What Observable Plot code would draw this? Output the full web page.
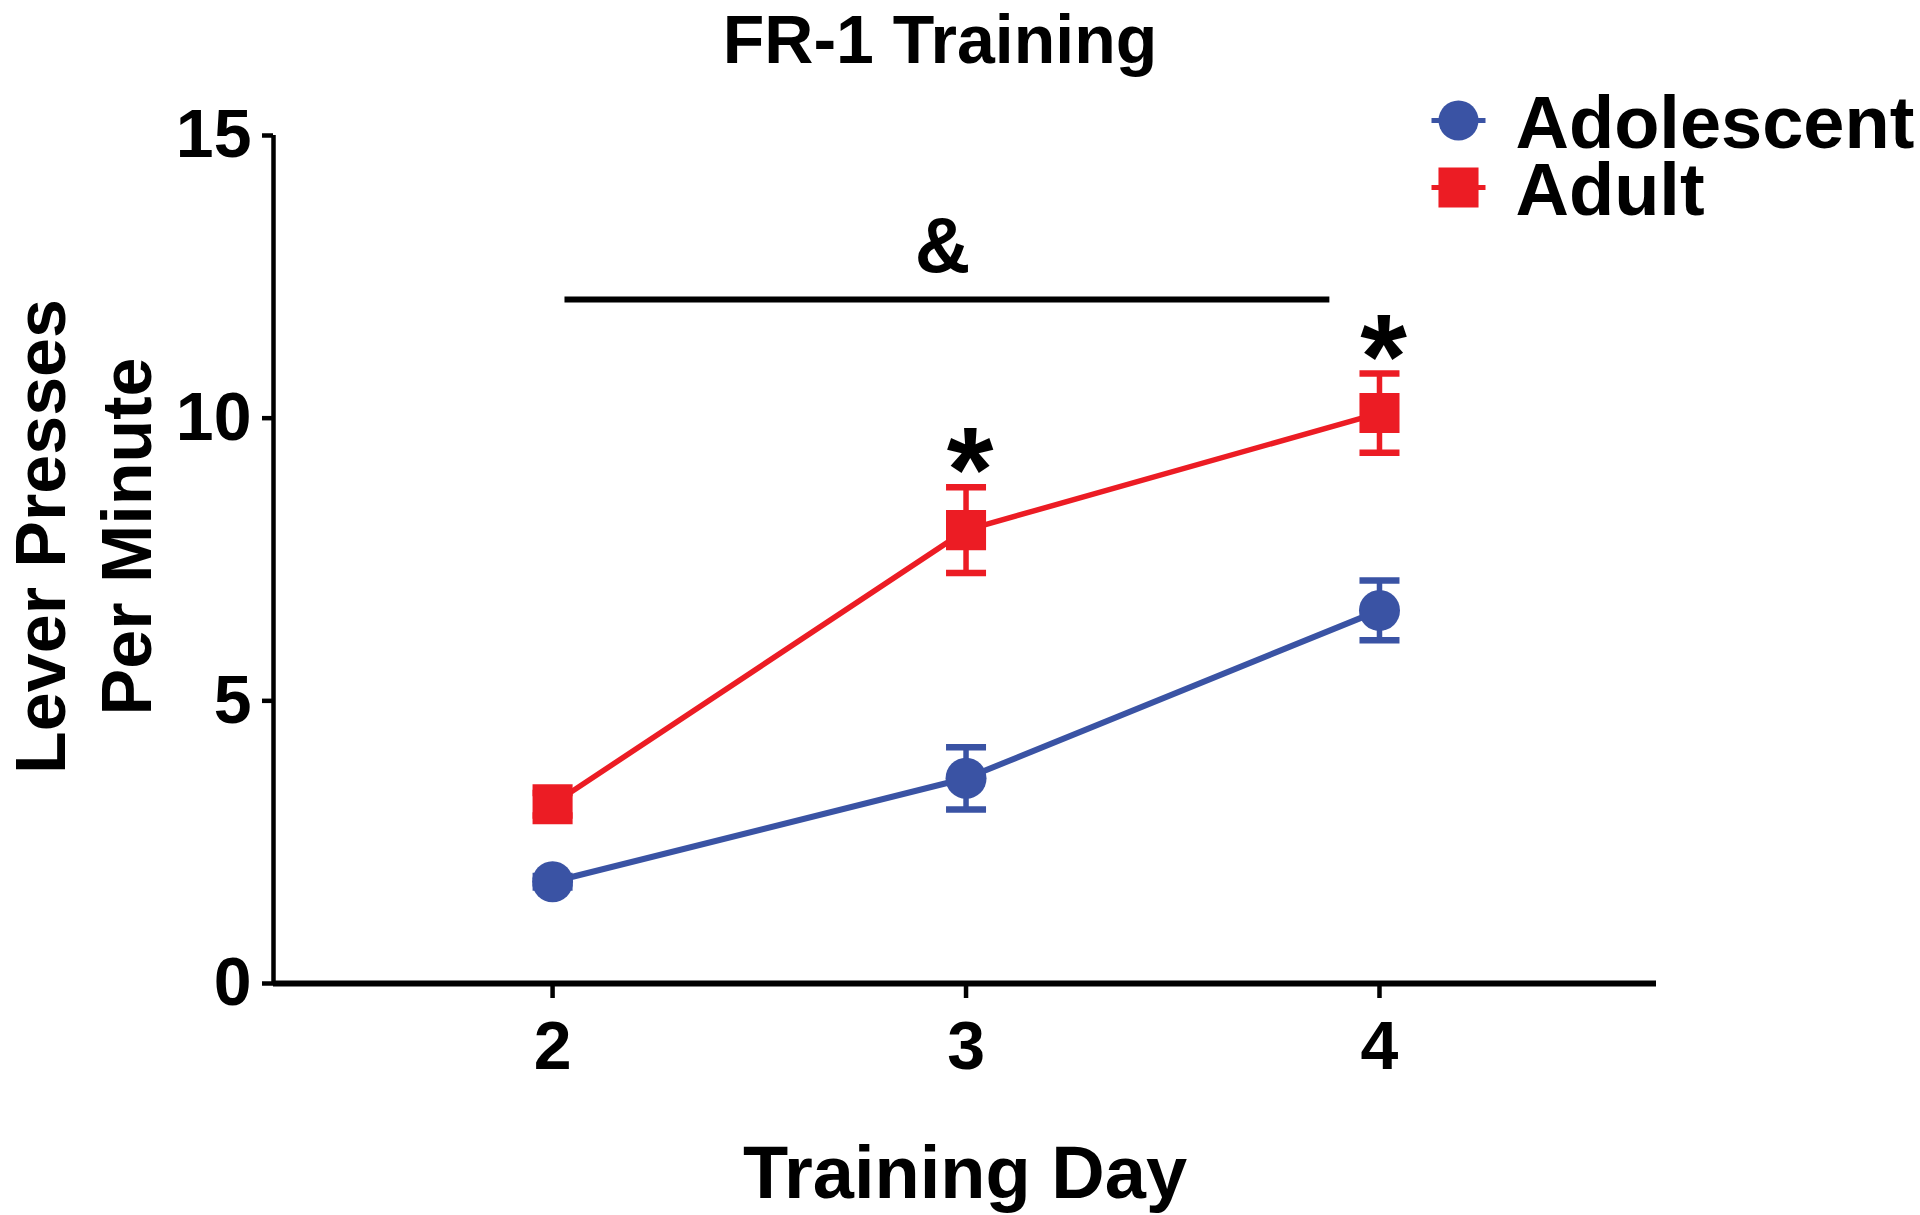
<!DOCTYPE html>
<html>
<head>
<meta charset="utf-8">
<script src="https://cdn.jsdelivr.net/npm/d3@7"></script>
<script src="https://cdn.jsdelivr.net/npm/@observablehq/plot@0.6"></script>
<style>
  html, body { margin: 0; padding: 0; background: #ffffff; }
  #chart svg { display: block; }
</style>
</head>
<body>
<div id="chart"></div>
<script>
// ---- data ----
const days = [2, 3, 4];
const seriesNames = ["Adolescent", "Adult"];
const seriesColors = ["#3a53a4", "#ec1c24"];
const seriesSymbols = ["circle", "square"];
const adolescentMean = [1.80, 3.63, 6.60];
const adolescentSem = [0.10, 0.55, 0.53];
const adultMean = [3.17, 8.02, 10.09];
const adultSem = [0.20, 0.76, 0.70];
const yTicks = [0, 5, 10, 15];
const xTicks = [2, 3, 4];
const sigDays = [3, 4];           // "*" adult vs adolescent
const sigBar = {x1: 2.03, x2: 3.88, y: 12.1, label: "&"};
const titleText = "FR-1 Training";
const xLabel = "Training Day";
const yLabel = "Lever Presses\nPer Minute";

// ---- build tables ----
const means = [adolescentMean, adultMean];
const sems = [adolescentSem, adultSem];
const series = seriesNames.map((name, s) =>
  days.map((d, i) => ({series: name, day: d, mean: means[s][i], sem: sems[s][i]}))
);
const adultByDay = new Map(series[1].map(d => [d.day, d]));
const stars = sigDays.map(d => ({day: d, y: adultByDay.get(d).mean + adultByDay.get(d).sem}));

const capSymbol = {
  draw(ctx, size) { const w = Math.sqrt(size / Math.PI); ctx.moveTo(-w, 0); ctx.lineTo(w, 0); }
};
const dashSymbol = capSymbol;

const marks = [];
// axes lines
marks.push(Plot.ruleX([1.325], {stroke: "black", strokeWidth: 4.5}));
marks.push(Plot.ruleY([0], {stroke: "black", strokeWidth: 6}));
marks.push(Plot.axisY({ticks: yTicks, tickSize: 11, tickPadding: 11, strokeWidth: 4.5, fontSize: 68, label: null}));
marks.push(Plot.axisX({ticks: xTicks, tickFormat: d => String(d), tickSize: 15, tickPadding: 22, strokeWidth: 4.5, fontSize: 68, label: null}));

series.forEach((data, s) => {
  const color = seriesColors[s];
  marks.push(Plot.line(data, {x: "day", y: "mean", stroke: color, strokeWidth: s === 0 ? 6 : 5.5}));
  marks.push(Plot.ruleX(data, {x: "day", y1: d => d.mean - d.sem, y2: d => d.mean + d.sem, stroke: color, strokeWidth: 5.5}));
  marks.push(Plot.dot(data, {x: "day", y: d => d.mean + d.sem, symbol: capSymbol, r: 20, stroke: color, strokeWidth: 6.5, fill: "none"}));
  marks.push(Plot.dot(data, {x: "day", y: d => d.mean - d.sem, symbol: capSymbol, r: 20, stroke: color, strokeWidth: 6.5, fill: "none"}));
  marks.push(Plot.dot(data, {x: "day", y: "mean", symbol: seriesSymbols[s], r: s === 0 ? 20.5 : 22.6, fill: color, stroke: "none"}));
});

// significance annotations
marks.push(Plot.ruleY([sigBar], {x1: "x1", x2: "x2", y: "y", stroke: "black", strokeWidth: 6}));
marks.push(Plot.text([sigBar], {x: d => (d.x1 + d.x2) / 2, y: "y", text: "label", lineAnchor: "bottom", dx: -5, dy: -27, fontSize: 77, fill: "black"}));
marks.push(Plot.text(stars, {x: "day", y: "y", text: () => "*", lineAnchor: "bottom", dx: 4, dy: 24, fontSize: 120, fill: "black"}));

// title & axis labels
marks.push(Plot.text([titleText], {frameAnchor: "top", text: d => d, textAnchor: "middle", lineAnchor: "bottom", dx: -25, dy: -73, fontSize: 68, fill: "black"}));
marks.push(Plot.text([xLabel], {frameAnchor: "bottom", text: d => d, textAnchor: "middle", lineAnchor: "bottom", dx: 0, dy: 214, fontSize: 74, fill: "black"}));
marks.push(Plot.text([yLabel], {frameAnchor: "left", text: d => d, textAnchor: "middle", rotate: -90, lineAnchor: "middle", lineHeight: 1.229, dx: -193.5, dy: -23, fontSize: 70, fill: "black"}));

// legend: symbols per series, labels as one stacked text block
seriesNames.forEach((name, s) => {
  const dy = -15 + s * 67;
  marks.push(Plot.dot([name], {frameAnchor: "top-right", symbol: dashSymbol, r: 27, stroke: seriesColors[s], strokeWidth: 5, dx: -198, dy}));
  marks.push(Plot.dot([name], {frameAnchor: "top-right", symbol: seriesSymbols[s], r: s === 0 ? 20 : 22.6, fill: seriesColors[s], dx: -198, dy}));
});
marks.push(Plot.text([seriesNames.join("\n")], {frameAnchor: "top-right", text: d => d, textAnchor: "start", lineAnchor: "top", lineHeight: 67 / 74, fontSize: 74, fill: "black", dx: -141, dy: -35.5}));

const chart = Plot.plot({
  width: 1920,
  height: 1215,
  marginLeft: 273,
  marginRight: 264,
  marginTop: 135,
  marginBottom: 232,
  style: {fontFamily: "'Liberation Sans', Arial, sans-serif", fontWeight: "bold", fontSize: "68px", color: "black", background: "white", overflow: "visible"},
  x: {domain: [1.325, 4.67]},
  y: {domain: [0, 15]},
  marks
});
document.getElementById("chart").appendChild(chart);
</script>
</body>
</html>
